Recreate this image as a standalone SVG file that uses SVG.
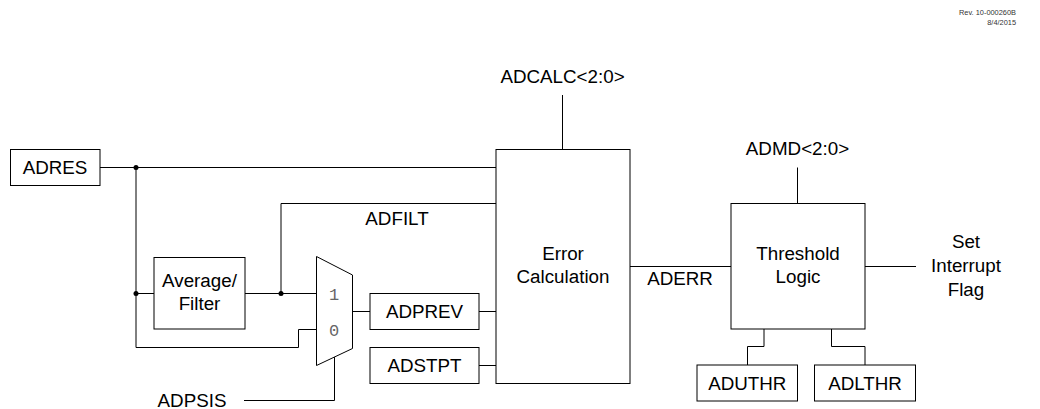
<svg xmlns="http://www.w3.org/2000/svg" width="1040" height="409" viewBox="0 0 1040 409">
<style>
.b{fill:#fff;stroke:#000;stroke-width:1}
.w{fill:none;stroke:#000;stroke-width:1}
.t{font-family:"Liberation Sans",Arial,sans-serif;font-size:18.8px;fill:#000;text-anchor:middle}
.m{font-family:"Liberation Mono","DejaVu Sans Mono",monospace;font-size:17px;fill:#666;text-anchor:middle}
.r{font-family:"Liberation Sans",Arial,sans-serif;font-size:7.4px;fill:#333;text-anchor:end}
</style>
<rect width="1040" height="409" fill="#fff"/>
<text class="r" x="1016" y="15">Rev. 10-000260B</text>
<text class="r" x="1016" y="25">8/4/2015</text>
<g id="connectors">
<polyline class="w" points="100,167.5 496,167.5"/>
<polyline class="w" points="136,167.5 136,347.5 298.5,347.5 298.5,329.5 316,329.5"/>
<polyline class="w" points="136,293.5 154,293.5"/>
<polyline class="w" points="245,293.5 316,293.5"/>
<polyline class="w" points="281,293.5 281,203.5 496,203.5"/>
<polyline class="w" points="353,311.5 370,311.5"/>
<polyline class="w" points="479,311.5 496,311.5"/>
<polyline class="w" points="479,365.5 496,365.5"/>
<polyline class="w" points="562.5,95 562.5,149.5"/>
<polyline class="w" points="630,266.5 731,266.5"/>
<polyline class="w" points="797.5,167.5 797.5,203.5"/>
<polyline class="w" points="865,266.5 916,266.5"/>
<polyline class="w" points="764,329 764,346.5 747.5,346.5 747.5,365"/>
<polyline class="w" points="831.5,329 831.5,346.5 865,346.5 865,365"/>
<polyline class="w" points="244,400.5 334.5,400.5 334.5,357"/>
<circle cx="136" cy="167.5" r="2.5"/>
<circle cx="136" cy="293.5" r="2.5"/>
<circle cx="281" cy="293.5" r="2.5"/>
</g>
<g id="adres"><rect class="b" x="10.5" y="149.5" width="89.5" height="36"/><text class="t" x="55" y="174">ADRES</text></g>
<g id="avgfilter"><rect class="b" x="154" y="257.5" width="91" height="71.5"/><text class="t" x="199.5" y="287">Average/</text><text class="t" x="199.5" y="310">Filter</text></g>
<g id="mux"><polygon class="b" points="316.5,256.5 352.5,275 352.5,348.5 316.5,365.5"/><text class="m" x="334" y="299.5">1</text><text class="m" x="334" y="335.5">0</text></g>
<g id="adprev"><rect class="b" x="370" y="293.5" width="109" height="36"/><text class="t" x="424.5" y="318">ADPREV</text></g>
<g id="adstpt"><rect class="b" x="370" y="347.5" width="109" height="36"/><text class="t" x="424.5" y="372">ADSTPT</text></g>
<g id="errcalc"><rect class="b" x="496" y="149.5" width="134" height="234"/><text class="t" x="563" y="260">Error</text><text class="t" x="563" y="283">Calculation</text></g>
<g id="threshold"><rect class="b" x="731" y="203.5" width="134" height="125.5"/><text class="t" x="798" y="260">Threshold</text><text class="t" x="798" y="283">Logic</text></g>
<g id="aduthr"><rect class="b" x="697" y="365" width="100.5" height="36"/><text class="t" x="747.3" y="389.5">ADUTHR</text></g>
<g id="adlthr"><rect class="b" x="814.5" y="365" width="101" height="36"/><text class="t" x="865" y="389.5">ADLTHR</text></g>
<g id="labels">
<text class="t" x="562.5" y="83">ADCALC&lt;2:0&gt;</text>
<text class="t" x="797.5" y="154.5">ADMD&lt;2:0&gt;</text>
<text class="t" x="397" y="225">ADFILT</text>
<text class="t" x="680" y="285">ADERR</text>
<text class="t" x="192" y="407">ADPSIS</text>
<text class="t" x="966" y="248">Set</text>
<text class="t" x="966" y="272">Interrupt</text>
<text class="t" x="966" y="295.5">Flag</text>
</g>
</svg>
